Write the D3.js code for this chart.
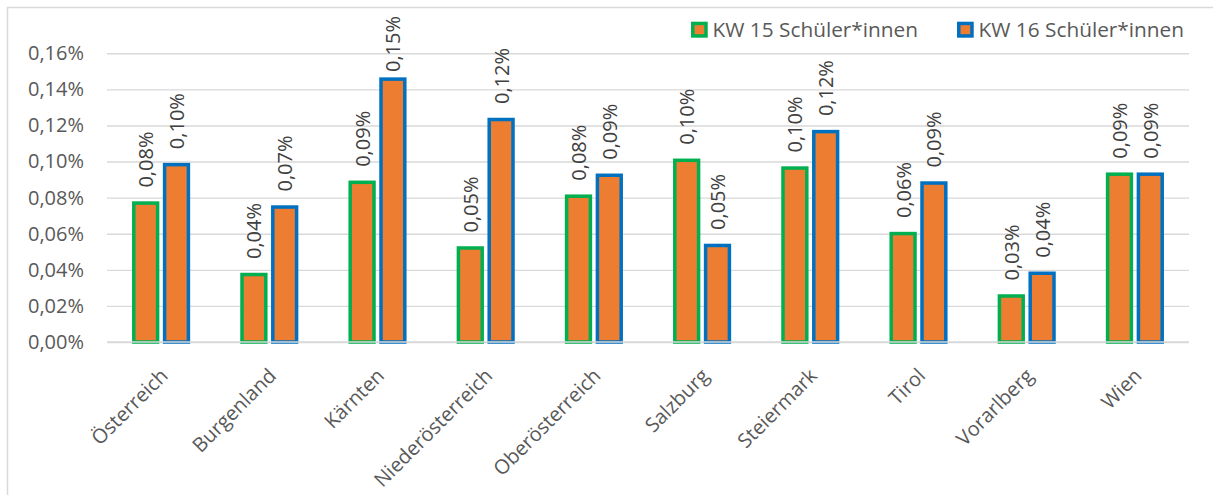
<!DOCTYPE html>
<html>
<head>
<meta charset="utf-8">
<script src="https://cdnjs.cloudflare.com/ajax/libs/d3/7.8.5/d3.min.js"></script>
<style>
body { margin: 0; background: #fff; }
svg text { font-family: "Open Sans", sans-serif; }
</style>
</head>
<body>
<script>
var w = 1213;
var h = 495;

// data (values in %)
var regions = ["Österreich", "Burgenland", "Kärnten", "Niederösterreich", "Oberösterreich",
               "Salzburg", "Steiermark", "Tirol", "Vorarlberg", "Wien"];
var kw15 = [0.0770, 0.0374, 0.0885, 0.0521, 0.0808, 0.1007, 0.0964, 0.0601, 0.0255, 0.0930];
var kw16 = [0.0983, 0.0748, 0.1457, 0.1233, 0.0924, 0.0535, 0.1166, 0.0881, 0.0381, 0.0930];
var seriesNames = ["KW 15 Schüler*innen", "KW 16 Schüler*innen"];
var yTicks = [0, 0.02, 0.04, 0.06, 0.08, 0.10, 0.12, 0.14, 0.16];

var borderColors = ["#00B050", "#0070C0"];
var fillColor = "#ED7D31";
var plotLeft = 107, plotRight = 1189, plotBottom = 342, plotTop = 53.3;

var fmt = function(v){ return v.toFixed(2).replace(".", ",") + "%"; };

var svg = d3.select("body").append("svg")
    .attr("width", w)
    .attr("height", h);

// chart border
svg.append("rect")
    .attr("x", 7.5).attr("y", 7.5)
    .attr("width", 1300).attr("height", 600)
    .attr("fill", "none")
    .attr("stroke", "#d9d9d9")
    .attr("stroke-width", 1.5);

var x = d3.scaleBand().domain(regions).range([plotLeft, plotRight]);
var yScale = d3.scaleLinear().domain([0, 0.16]).range([plotBottom, plotTop]);
var step = 30.8;
var x1 = d3.scaleBand().domain([0, 1])
    .range([x.bandwidth() / 2 - step, x.bandwidth() / 2 + step]);
var barW = 23.8;

// y axis + gridlines
var yAxis = svg.append("g")
    .attr("transform", "translate(" + plotLeft + ",0)")
    .call(d3.axisLeft(yScale).tickValues(yTicks).tickFormat(fmt)
        .tickSize(-(plotRight - plotLeft)).tickPadding(23));
yAxis.select(".domain").remove();
yAxis.selectAll("line").attr("stroke", "#d9d9d9").attr("stroke-width", 1.4);
yAxis.selectAll("text")
    .attr("fill", "#595959")
    .style("font-size", "20px");

// bars
var series = [kw15, kw16];
series.forEach(function(vals, si){
    var data = regions.map(function(r, i){ return {r: r, v: vals[i]}; });
    svg.append("g").selectAll("rect")
        .data(data)
        .enter()
        .append("rect")
        .attr("x", function(d){ return x(d.r) + x1(si) + (step - barW) / 2; })
        .attr("y", function(d){ return yScale(d.v); })
        .attr("width", barW)
        .attr("height", function(d){ return plotBottom - yScale(d.v); })
        .attr("fill", fillColor)
        .attr("stroke", borderColors[si])
        .attr("stroke-width", 3.5);

    svg.append("g").selectAll("text")
        .data(data)
        .enter()
        .append("text")
        .text(function(d){ return fmt(d.v); })
        .attr("text-anchor", "start")
        .attr("dominant-baseline", "central")
        .attr("fill", "#404040")
        .style("font-size", "20px")
        .attr("transform", function(d){
            var cx = x(d.r) + x1(si) + step / 2;
            var len = this.getComputedTextLength();
            var ly = yScale(d.v) - 15.5;
            if (ly - len < 16) ly = 16 + len; // keep label inside the chart
            return "translate(" + cx + "," + ly + ") rotate(-90)";
        });
});

// zero line on top
svg.append("line")
    .attr("x1", plotLeft).attr("x2", plotRight)
    .attr("y1", plotBottom).attr("y2", plotBottom)
    .attr("stroke", "#d9d9d9")
    .attr("stroke-width", 1.5);

// x labels
var xAxis = svg.append("g")
    .attr("transform", "translate(0," + plotBottom + ")")
    .call(d3.axisBottom(x).tickSize(0).tickPadding(0));
xAxis.select(".domain").remove();
xAxis.selectAll("text")
    .attr("fill", "#595959")
    .style("font-size", "20px")
    .attr("y", 0).attr("dy", 0)
    .attr("text-anchor", "end")
    .attr("transform", "translate(8,35) rotate(-45)");

// legend, laid out from the right
var legend = svg.append("g");
var xr = 1184;
for (var i = seriesNames.length - 1; i >= 0; i--) {
    var t = legend.append("text")
        .text(seriesNames[i])
        .attr("y", 36.5)
        .attr("fill", "#595959")
        .style("font-size", "20.8px");
    var tw = t.node().getComputedTextLength();
    var tx = xr - tw;
    t.attr("x", tx);
    legend.append("rect")
        .attr("x", tx - 21.5 + 1.75)
        .attr("y", 21.7 + 1.75)
        .attr("width", 16.7 - 3.5)
        .attr("height", 16 - 3.5)
        .attr("fill", fillColor)
        .attr("stroke", borderColors[i])
        .attr("stroke-width", 3.5);
    xr = tx - 21.5 - 39;
}
</script>
</body>
</html>
